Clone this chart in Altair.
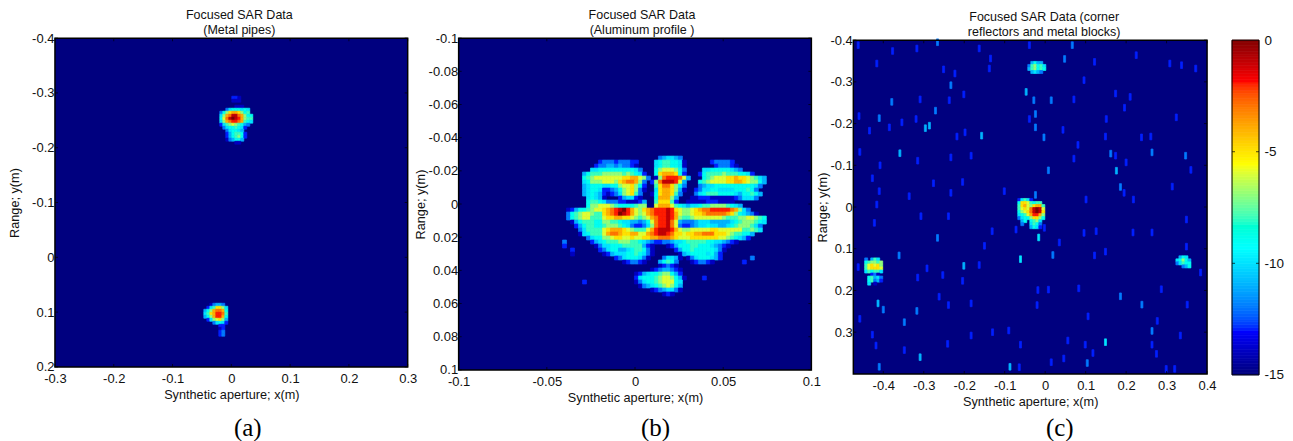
import altair as alt
import pandas as pd

FONT = "Liberation Sans"
STOPS = [-15, -13.1, -9.4, -5.6, -1.9, 0]
JET = ["#00007f", "#0000ff", "#00ffff", "#ffff00", "#ff0000", "#7f0000"]

# Panel (a): levels per cell, 0 = -15 dB ... f = 0 dB
A_BLOB1 = dict(x0=-0.0247, y0=-0.294, dx=0.0051, dy=0.00547, rows=[
    "000002210000", "000001110000", "000000000000", "000000111000",
    "000356665650", "0368abba8670", "058bceecb866", "069cefedb877",
    "058bcddcb765", "025789876430", "003566765200", "000356654000",
    "000246776200", "000246786200", "000134664000", "000000110000"])
A_BLOB2 = dict(x0=-0.0468, y0=0.0784, dx=0.0051, dy=0.00547, rows=[
    "00000000", "00134430", "0257aa85", "468bccb6", "57abddc7", "468bddb6",
    "02589a84", "00035652", "00000220", "00000120", "00000230", "00000230"])

# Panel (b)
B_GRID = dict(x0=-0.0411, y0=-0.0289, dx=0.002266, dy=0.00241, rows=[
    "000000000000000000000000345543000000000000000000000",
    "000000000233323332200005677665100000023333200000000",
    "000000002334434332100005677665100000002333210000000",
    "000000055666666666530006899986300005566666543000000",
    "000004677788888787652006abbba6200026777787776652000",
    "000006789999999aabb983018cdddc9400067899 9aabaa98754",
    "00000568889998abccb83028ceeed940006789999aabba98864",
    "00000456665566899a862007acca86300034556666666666530",
    "00000456652234689a831005abba84100235566555566676300",
    "00000456542123589a730016abba73000356777666654667640",
    "000000565410002455210006bbb840001122211111123555300",
    "000000677653332211124007aaa72001111122211110000000",
    "000000688999876666788009bbb976545567788887654000000",
    "0124667899abcdefdb98abcdddeda9889abccdddddcb8530000",
    "0367899877abcdfedb989bcdddedb9889aabcccccba86543100",
    "03678997779aabbaa98789bcddedb8778999999987778899876",
    "00146777668877655443469cddec94333455544444567888765",
    "00024677667888765322358cddec93223455655445678887530",
    "00003577779abbba987779bdeeedb98899999aa999999778750",
    "00001567779bccbaabb99bcdeedcaa9aabbcccaaa9877664000",
    "000000356688 9aa99a99aabbcccba999aaaaaaa99876542000",
    "300000024567778887765432233455677777665543210000000",
    "200000001355666777774210001246667766654321000000000",
    "002000000235664456776310000024667666665310000000000",
    "001000000012455566765310000001456666564200000000000",
    "000000000000023566653100035541013566654200000003000",
    "000000000000000123321000467630001233210000000200000",
    "000000000000000000000000123210000000000000000000000",
    "000000000000000000000012344321000000000000000000000",
    "000000000000000000124566788642000000000000000000000",
    "000000000000000000256667899864100002000000000000000",
    "000002000000000000135667899965000000000000000000000",
    "000000000000000000013456789864000000000000000000000",
    "000000000000000000000012345531000000000000000000000",
    "000000000000000000000000012100000000000000000000000"])

# Panel (c): isolated speckles
C_X = [-0.462,-0.416,-0.377,-0.317,-0.266,-0.163,-0.135,-0.039,0.067,0.048,0.225,0.308,0.337,0.372,0.122,-0.251,-0.223,-0.233,0.096,-0.138,
       -0.047,-0.028,0.015,0.071,0.174,0.210,0.196,-0.379,-0.309,-0.237,-0.201,-0.271,-0.024,-0.039,-0.410,-0.460,-0.354,-0.286,-0.296,-0.434,
       -0.385,-0.319,-0.157,-0.198,-0.218,-0.024,-0.003,0.044,0.151,0.149,0.238,0.261,0.324,-0.359,-0.458,-0.315,-0.183,-0.233,0.081,0.071,
       0.162,0.174,0.264,0.347,0.200,-0.408,0.176,0.008,0.360,-0.427,-0.410,-0.276,-0.204,0.186,0.195,0.218,0.314,-0.101,-0.024,0.101,
       -0.233,-0.416,-0.336,-0.307,-0.266,-0.239,-0.422,-0.131,-0.150,-0.072,-0.002,-0.016,0.035,0.096,0.126,0.217,0.264,0.349,-0.361,0.019,
       -0.061,0.122,0.149,-0.201,-0.292,-0.462,-0.163,-0.204,-0.253,-0.315,0.384,0.349,-0.018,0.008,0.083,0.186,0.239,0.351,0.287,-0.262,
       -0.239,-0.183,-0.020,-0.413,-0.400,-0.317,-0.458,-0.348,0.106,0.277,0.264,0.334,-0.130,-0.090,-0.183,-0.427,0.056,0.149,-0.241,-0.418,
       -0.348,-0.061,0.099,0.264,0.118,-0.309,0.046,0.275,-0.410,-0.087,0.015,0.104,-0.064,0.299,0.320]
C_Y = [-0.388,-0.344,-0.374,-0.380,-0.395,-0.380,-0.356,-0.388,-0.388,-0.355,-0.364,-0.344,-0.340,-0.332,-0.348,-0.330,-0.320,-0.292,-0.304,-0.332,
       -0.276,-0.256,-0.256,-0.258,-0.272,-0.264,-0.238,-0.252,-0.258,-0.256,-0.270,-0.231,-0.223,-0.211,-0.213,-0.218,-0.203,-0.195,-0.189,-0.183,
       -0.191,-0.211,-0.171,-0.179,-0.169,-0.191,-0.167,-0.185,-0.211,-0.169,-0.167,-0.169,-0.215,-0.129,-0.132,-0.111,-0.123,-0.119,-0.149,-0.116,
       -0.128,-0.123,-0.131,-0.123,-0.107,-0.100,-0.087,-0.088,-0.089,-0.069,-0.038,-0.057,-0.060,-0.048,-0.034,-0.018,-0.049,-0.038,-0.029,-0.018,
       -0.034,-0.006,-0.026,0.022,0.074,0.022,0.038,0.058,0.093,0.054,0.050,0.073,0.085,0.062,0.058,0.061,0.061,0.030,0.116,0.115,
       0.125,0.116,0.107,0.141,0.147,0.144,0.139,0.177,0.163,0.169,0.157,0.095,0.199,0.198,0.195,0.214,0.234,0.234,0.197,0.215,
       0.235,0.231,0.235,0.231,0.246,0.249,0.268,0.276,0.262,0.273,0.297,0.308,0.300,0.296,0.308,0.306,0.320,0.324,0.328,0.332,
       0.343,0.330,0.330,0.330,0.350,0.360,0.363,0.352,0.383,0.383,0.372,0.374,0.384,0.388,0.388]
C_L = [3,3,2,2,4,3,3,3,4,4,3,3,2,3,2,2,3,4,3,2,
       5,4,4,3,3,2,3,4,3,3,2,4,4,2,4,2,3,5,5,3,
       2,2,5,3,2,4,4,2,3,3,2,2,2,5,3,2,3,2,2,2,
       4,3,4,4,2,3,5,4,3,2,3,2,2,4,3,3,3,3,4,3,
       2,3,2,2,4,2,2,2,3,2,3,6,3,3,3,3,3,2,4,4,
       6,3,3,5,2,3,2,2,2,2,2,3,3,3,2,4,4,3,2,2,
       2,2,2,5,4,4,3,4,2,2,4,3,2,2,2,3,3,6,2,2,
       2,2,2,3,2,5,2,2,4,5,3,4,2,2,2]
C_BLOBS = [
    dict(x0=-0.0677, y0=-0.0205, dx=0.00743, dy=0.00725, rows=[
        "257520000", "6aa976770", "7ab98abb7", "79a9cefe9", "689acefea",
        "5679bddb8", "35668aa86", "046067850", "030057630", "000046520"]),
    dict(x0=-0.446, y0=0.122, dx=0.00743, dy=0.00725, rows=[
        "304750", "678878", "79a9a8", "79aaa9", "576775", "002310",
        "067453", "067342", "050100"]),
    dict(x0=0.323, y0=0.117, dx=0.00743, dy=0.00725, rows=[
        "04650", "56864", "35766", "00346"]),
    dict(x0=-0.043, y0=-0.349, dx=0.00743, dy=0.00725, rows=[
        "046440", "378675", "478676", "045430"]),
]

A_XT = [-0.3, -0.2, -0.1, 0, 0.1, 0.2, 0.3]
A_YT = [-0.4, -0.3, -0.2, -0.1, 0, 0.1, 0.2]
B_XT = [-0.1, -0.05, 0, 0.05, 0.1]
B_YT = [-0.1, -0.08, -0.06, -0.04, -0.02, 0, 0.02, 0.04, 0.06, 0.08, 0.1]
C_XT = [-0.4, -0.3, -0.2, -0.1, 0, 0.1, 0.2, 0.3, 0.4]
C_YT = [-0.4, -0.3, -0.2, -0.1, 0, 0.1, 0.2, 0.3]
CB_T = [0, -5, -10, -15]
CB_LEVELS = [i / 8 - 15 for i in range(120)]


def cells(blob):
    out = []
    for j, row in enumerate(blob["rows"]):
        for i, ch in enumerate(row.replace(" ", "")):
            if ch != "0":
                out.append(dict(x=blob["x0"] + i * blob["dx"], x2=blob["x0"] + (i + 1) * blob["dx"],
                                y=blob["y0"] + j * blob["dy"], y2=blob["y0"] + (j + 1) * blob["dy"],
                                v=-15 + int(ch, 16)))
    return out


color_scale = alt.Scale(domain=STOPS, range=JET)
LABEL = "toString(round(datum.value*100)/100)"
CAP_Y = 390
BG = "#00007f"


def panel(records, xdom, ydom, xt, yt, W, top, H, title, tdx, cap, capx, ytp):
    total = top + H
    xs = alt.Scale(domain=xdom, nice=False, zero=False)
    ys = alt.Scale(domain=ydom, range=[top, total], nice=False, zero=False)
    xa = alt.Axis(values=xt, title="Synthetic aperture; x(m)", grid=False, ticks=False, domain=False,
                  labelExpr=LABEL, labelPadding=6, titlePadding=3, labelFlush=False, labelOverlap=False)
    ya = alt.Axis(values=yt, title="Range; y(m)", grid=False, ticks=False, domain=False,
                  labelExpr=LABEL, labelPadding=1, titlePadding=ytp, labelFlush=False, labelOverlap=False)
    X = alt.X("x:Q", scale=xs, axis=xa)
    Y = alt.Y("y:Q", scale=ys, axis=ya)
    box = pd.DataFrame([dict(x=xdom[0], x2=xdom[1], y=ydom[0], y2=ydom[1])])
    bg = alt.Chart(box).mark_rect(fill=BG).encode(x=X, x2="x2:Q", y=Y, y2="y2:Q")
    frame = alt.Chart(box).mark_rect(fillOpacity=0, stroke="black", strokeWidth=1.5).encode(
        x=X, x2="x2:Q", y=Y, y2="y2:Q")
    base = alt.Chart(pd.DataFrame(records)).mark_rect(strokeWidth=0.7).encode(
        x=X, x2="x2:Q", y=Y, y2="y2:Q",
        color=alt.Color("v:Q", scale=color_scale, legend=None),
        stroke=alt.Stroke("v:Q", scale=color_scale, legend=None),
    )
    xd = pd.DataFrame({"x": xt})
    yd = pd.DataFrame({"y": yt})
    layers = [bg, base, frame]
    for py in (top + 1.5, total - 1.5):
        layers.append(alt.Chart(xd).mark_tick(orient="vertical", size=3, thickness=1, color="black").encode(
            x=X, y=alt.value(py)))
    for px in (1.5, W - 1.5):
        layers.append(alt.Chart(yd).mark_tick(orient="horizontal", size=3, thickness=1, color="black").encode(
            y=Y, x=alt.value(px)))
    layers.append(alt.Chart(pd.DataFrame({"c": [cap], "x": [capx]})).mark_text(
        font="Liberation Serif", fontSize=25, color="black").encode(x=X, y=alt.value(CAP_Y), text="c:N"))
    return alt.layer(*layers).properties(
        width=W, height=total,
        title=alt.TitleParams(text=title, font=FONT, fontSize=12.5, fontWeight="normal", color="#111111",
                              anchor="middle", dx=tdx, offset=-4, lineHeight=15))


a = panel(cells(A_BLOB1) + cells(A_BLOB2), [-0.3, 0.3], [-0.4, 0.2], A_XT, A_YT, 353, 0, 329,
          ["Focused SAR Data", "(Metal pipes)"], 8, "(a)", 0.028, 10)
b = panel(cells(B_GRID), [-0.1, 0.1], [-0.1, 0.1], B_XT, B_YT, 353, 0, 332,
          ["Focused SAR Data", "(Aluminum profile )"], 7, "(b)", 0.0116, 1)
c_speck = [dict(x=X - 0.0025, x2=X + 0.0025, y=Y - 0.008, y2=Y + 0.008, v=-16 + max(L, 3))
           for X, Y, L in zip(C_X, C_Y, C_L)]
c_recs = c_speck + [r for bl in C_BLOBS for r in cells(bl)]
c = panel(c_recs, [-0.474, 0.4], [-0.4, 0.4], C_XT, C_YT, 354, 2, 334,
          ["Focused SAR Data (corner", "reflectors and metal blocks)"], 14, "(c)", 0.036, 0)

cb_df = pd.DataFrame({"v": CB_LEVELS, "v2": [v + 0.125 for v in CB_LEVELS]})
cb_y = alt.Scale(domain=[-15, 0], range=[337, 2], nice=False, zero=False)
cb_ax = alt.Axis(orient="right", values=CB_T, title=None, grid=False, ticks=False, domain=False,
                 labelPadding=5, labelFontSize=13.5, labelExpr="toString(datum.value)",
                 labelFlush=False, labelOverlap=False)
cb_rect = alt.Chart(cb_df).mark_rect(strokeWidth=0.7).encode(
    y=alt.Y("v:Q", scale=cb_y, axis=cb_ax), y2="v2:Q",
    x=alt.value(0), x2=alt.value(27),
    color=alt.Color("v:Q", scale=color_scale, legend=None),
    stroke=alt.Stroke("v:Q", scale=color_scale, legend=None),
)
cb_box = alt.Chart(pd.DataFrame({"v": [-15], "v2": [0]})).mark_rect(fillOpacity=0, stroke="black", strokeWidth=1).encode(
    y=alt.Y("v:Q", scale=cb_y, axis=cb_ax), y2="v2:Q", x=alt.value(0), x2=alt.value(27))
cb_ticks = [alt.Chart(pd.DataFrame({"v": [-5, -10]})).mark_tick(orient="horizontal", size=3, thickness=1, color="black").encode(
    y=alt.Y("v:Q", scale=cb_y, axis=cb_ax), x=alt.value(px)) for px in (1.5, 25.5)]
cbar = alt.layer(cb_rect, cb_box, *cb_ticks).properties(width=27, height=337)


def spacer(w):
    return alt.Chart(pd.DataFrame({"s": [0]})).mark_point(opacity=0).encode(
        x=alt.value(0), y=alt.value(0)).properties(width=w, height=1)


chart = alt.hconcat(a, spacer(51), b, spacer(42), c, spacer(25), cbar,
                    spacing=0, bounds="flush", padding=0).configure_view(
    stroke="transparent"
).configure_axis(
    labelFont=FONT, labelFontSize=13, labelColor="#111111", titleFont=FONT, titleFontSize=12.7,
    titleFontWeight="normal", titleColor="#111111"
)

chart.save("out.html", embed_options={"renderer": "svg", "actions": False})
